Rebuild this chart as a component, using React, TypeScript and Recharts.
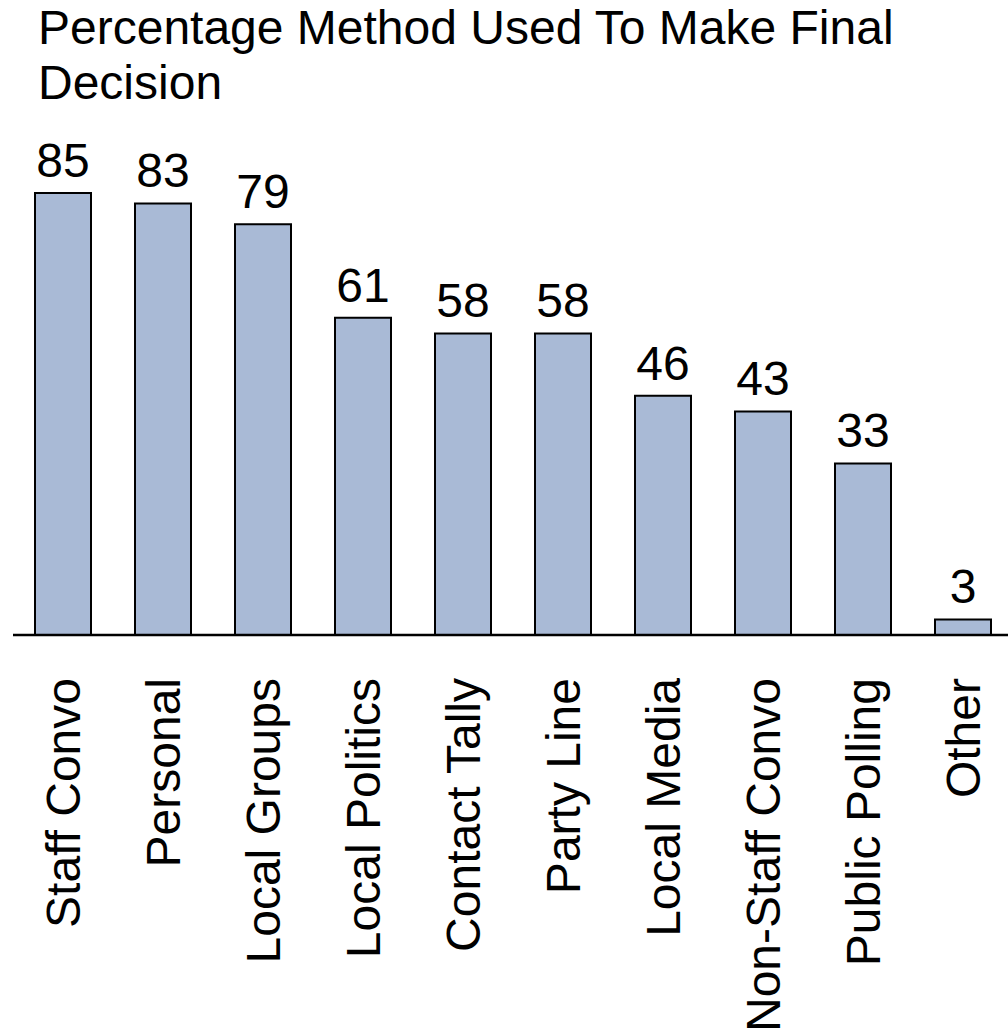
import React from "react";
import { Bar, BarChart, LabelList, XAxis, YAxis } from "recharts";

const categories = [
  "Staff Convo",
  "Personal",
  "Local Groups",
  "Local Politics",
  "Contact Tally",
  "Party Line",
  "Local Media",
  "Non-Staff Convo",
  "Public Polling",
  "Other",
];

const percentages = [85, 83, 79, 61, 58, 58, 46, 43, 33, 3];

const FONT = "'Liberation Sans', Arial, sans-serif";
const BAR_FILL = "#a9bad6";

const chartData = categories.map((name, i) => ({ name, value: percentages[i] }));

function CategoryTick(props: any) {
  const { x, y, payload } = props;
  return (
    <text
      transform={`translate(${x},${y + 37}) rotate(-90)`}
      textAnchor="end"
      dy="0.36em"
      fontSize={48}
      fontFamily={FONT}
      fill="#000"
    >
      {payload.value}
    </text>
  );
}

export default function App() {
  return (
    <div
      style={{
        position: "absolute",
        left: 0,
        top: 0,
        width: 1008,
        height: 1030,
        overflow: "hidden",
        background: "#fff",
        fontFamily: FONT,
      }}
    >
      <div
        style={{
          position: "absolute",
          left: 38,
          top: 0,
          fontSize: 48,
          lineHeight: "55px",
          color: "#000",
          whiteSpace: "nowrap",
        }}
      >
        Percentage Method Used To Make Final
        <br />
        Decision
      </div>
      <BarChart
        width={1020}
        height={1030}
        data={chartData}
        margin={{ top: 115, right: 7, bottom: 0, left: 13 }}
      >
        <YAxis hide domain={[0, 100]} />
        <XAxis
          dataKey="name"
          interval={0}
          height={395}
          tickLine={false}
          axisLine={{ stroke: "#000", strokeWidth: 2.5 }}
          tick={<CategoryTick />}
          tickMargin={0}
        />
        <Bar
          dataKey="value"
          fill={BAR_FILL}
          stroke="#000"
          strokeWidth={2}
          barSize={56}
          isAnimationActive={false}
        >
          <LabelList
            dataKey="value"
            position="top"
            offset={16}
            fontSize={48}
            fontFamily={FONT}
            fill="#000"
          />
        </Bar>
      </BarChart>
    </div>
  );
}
